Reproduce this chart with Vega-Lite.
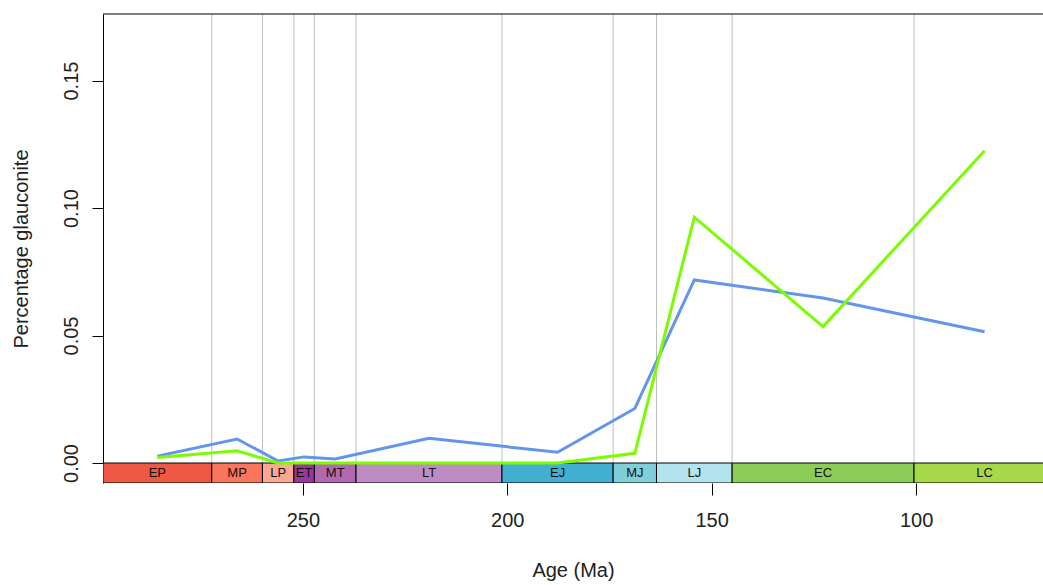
{
  "$schema": "https://vega.github.io/schema/vega-lite/v6.json",
  "width": 940,
  "height": 469,
  "autosize": {"type": "none"},
  "padding": {"left": 103, "top": 14, "right": 0, "bottom": 102},
  "background": "white",
  "config": {"view": {"stroke": null}, "font": "Liberation Sans"},
  "datasets": {
    "stages": [
      {"name": "EP", "start": 298.9, "end": 272.3, "mid": 285.6},
      {"name": "MP", "start": 272.3, "end": 259.9, "mid": 266.1},
      {"name": "LP", "start": 259.9, "end": 252.2, "mid": 256.05},
      {"name": "ET", "start": 252.2, "end": 247.2, "mid": 249.7},
      {"name": "MT", "start": 247.2, "end": 237.0, "mid": 242.1},
      {"name": "LT", "start": 237.0, "end": 201.3, "mid": 219.15},
      {"name": "EJ", "start": 201.3, "end": 174.1, "mid": 187.7},
      {"name": "MJ", "start": 174.1, "end": 163.5, "mid": 168.8},
      {"name": "LJ", "start": 163.5, "end": 145.0, "mid": 154.25},
      {"name": "EC", "start": 145.0, "end": 100.5, "mid": 122.75},
      {"name": "LC", "start": 100.5, "end": 66.0, "mid": 83.25}
    ],
    "bounds": [
      {"age": 272.3}, {"age": 259.9}, {"age": 252.2}, {"age": 247.2}, {"age": 237.0},
      {"age": 201.3}, {"age": 174.1}, {"age": 163.5}, {"age": 145.0}, {"age": 100.5}
    ],
    "glauc": [
      {"series": "series1", "age": 285.6, "value": 0.0027},
      {"series": "series1", "age": 266.1, "value": 0.0094},
      {"series": "series1", "age": 256.05, "value": 0.0008},
      {"series": "series1", "age": 249.7, "value": 0.0024},
      {"series": "series1", "age": 242.1, "value": 0.0016},
      {"series": "series1", "age": 219.15, "value": 0.0097},
      {"series": "series1", "age": 187.7, "value": 0.0042},
      {"series": "series1", "age": 168.8, "value": 0.0214},
      {"series": "series1", "age": 154.25, "value": 0.0718},
      {"series": "series1", "age": 122.75, "value": 0.0647},
      {"series": "series1", "age": 83.25, "value": 0.0515},
      {"series": "series2", "age": 285.6, "value": 0.0022},
      {"series": "series2", "age": 266.1, "value": 0.0048},
      {"series": "series2", "age": 256.05, "value": 0.0},
      {"series": "series2", "age": 249.7, "value": 0.0},
      {"series": "series2", "age": 242.1, "value": 0.0},
      {"series": "series2", "age": 219.15, "value": 0.0},
      {"series": "series2", "age": 187.7, "value": 0.0},
      {"series": "series2", "age": 168.8, "value": 0.0038},
      {"series": "series2", "age": 154.25, "value": 0.0964},
      {"series": "series2", "age": 122.75, "value": 0.0535},
      {"series": "series2", "age": 83.25, "value": 0.1225}
    ]
  },
  "layer": [
    {
      "data": {"name": "bounds"},
      "mark": {"type": "rule", "color": "#BEBEBE", "strokeWidth": 1},
      "encoding": {
        "x": {
          "field": "age", "type": "quantitative",
          "scale": {"domain": [68.95, 298.9], "reverse": true, "nice": false, "zero": false},
          "axis": {
            "title": "Age (Ma)", "values": [250, 200, 150, 100], "format": "d",
            "domain": false, "grid": false, "ticks": true, "tickSize": 12, "tickColor": "#000",
            "labelFontSize": 20, "labelColor": "#222", "labelPadding": 15,
            "titleFontSize": 20, "titleFontWeight": "normal", "titleColor": "#222", "titlePadding": 30
          }
        },
        "y": {
          "datum": 0, "type": "quantitative",
          "scale": {"domain": [-0.00784, 0.1761], "nice": false, "zero": false},
          "axis": {
            "title": "Percentage glauconite", "values": [0, 0.05, 0.1, 0.15], "format": ".2f",
            "domain": true, "domainColor": "#000", "grid": false, "tickSize": 11, "tickColor": "#000",
            "labelFontSize": 20, "labelColor": "#222", "labelAngle": 270, "labelAlign": "center",
            "labelBaseline": "bottom", "labelPadding": 11,
            "titleFontSize": 20, "titleFontWeight": "normal", "titleColor": "#222", "titlePadding": 30
          }
        },
        "y2": {"datum": 0.1761}
      }
    },
    {
      "data": {"values": [{"top": 0.1761}]},
      "mark": {"type": "rule", "color": "#000", "strokeWidth": 1},
      "encoding": {
        "y": {"field": "top", "type": "quantitative"}
      }
    },
    {
      "data": {"name": "stages"},
      "mark": {"type": "rect", "stroke": "#000", "strokeWidth": 1, "clip": true},
      "encoding": {
        "x": {"field": "start", "type": "quantitative"},
        "x2": {"field": "end"},
        "y": {"datum": 0, "type": "quantitative"},
        "y2": {"datum": -0.00784},
        "fill": {
          "field": "name", "type": "nominal", "legend": null,
          "scale": {
            "domain": ["EP", "MP", "LP", "ET", "MT", "LT", "EJ", "MJ", "LJ", "EC", "LC"],
            "range": ["#EF5845", "#FB745C", "#FBA794", "#983999", "#B168B1", "#BD8CC3", "#42AED0", "#80CFD8", "#B3E3EE", "#8CCD57", "#A6D84A"]
          }
        }
      }
    },
    {
      "data": {"name": "stages"},
      "mark": {"type": "text", "fontSize": 13, "color": "#111", "baseline": "middle", "align": "center"},
      "encoding": {
        "x": {"field": "mid", "type": "quantitative"},
        "y": {"datum": -0.00392, "type": "quantitative"},
        "text": {"field": "name"}
      }
    },
    {
      "data": {"name": "glauc"},
      "mark": {"type": "line", "strokeWidth": 3, "clip": true},
      "encoding": {
        "x": {"field": "age", "type": "quantitative"},
        "y": {"field": "value", "type": "quantitative"},
        "color": {
          "field": "series", "type": "nominal", "legend": null,
          "scale": {"domain": ["series1", "series2"], "range": ["#6495ED", "#7CFC00"]}
        }
      }
    }
  ]
}
